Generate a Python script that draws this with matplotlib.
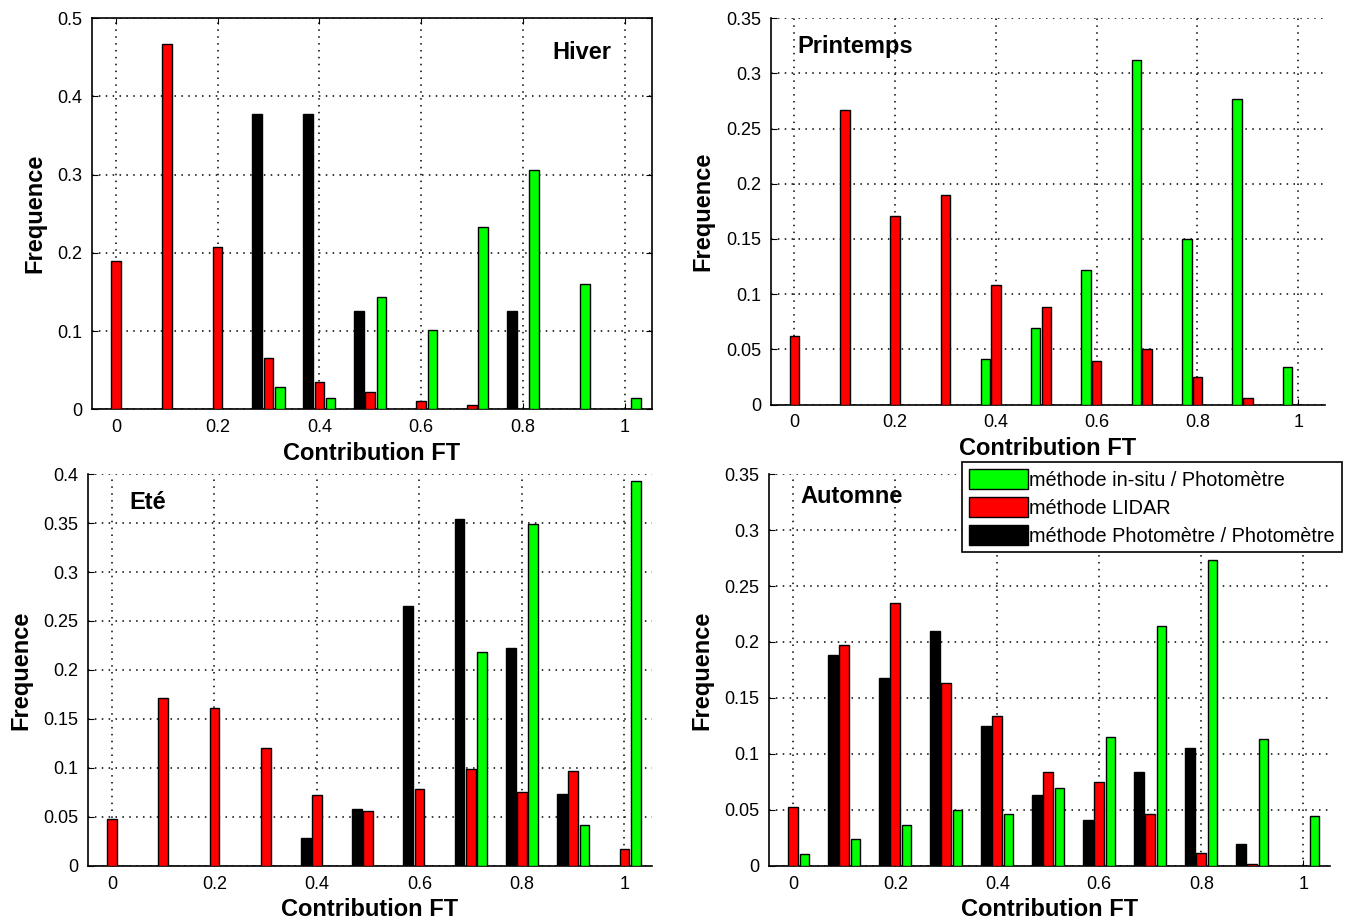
import numpy as np
import matplotlib
matplotlib.use("Agg")
import matplotlib.pyplot as plt
from matplotlib.ticker import FuncFormatter

plt.rcParams['font.family'] = ['Liberation Sans', 'DejaVu Sans']

# contribution FT classes
classes = [0, 0.1, 0.2, 0.3, 0.4, 0.5, 0.6, 0.7, 0.8, 0.9, 1.0]

# Hiver
hiver_insitu = [0, 0, 0, 0.029, 0.015, 0.144, 0.102, 0.233, 0.306, 0.160, 0.015]
hiver_lidar = [0.189, 0.467, 0.208, 0.066, 0.035, 0.022, 0.011, 0.005, 0, 0, 0]
hiver_photo = [0, 0, 0, 0.377, 0.377, 0.126, 0, 0, 0.126, 0, 0]

# Printemps (no photometre/photometre series)
print_insitu = [0, 0, 0, 0, 0.041, 0.069, 0.122, 0.312, 0.150, 0.277, 0.034]
print_lidar = [0.0625, 0.2666, 0.1707, 0.190, 0.108, 0.088, 0.040, 0.050, 0.025, 0.006, 0]

# Ete
ete_insitu = [0, 0, 0, 0, 0, 0, 0, 0.218, 0.349, 0.042, 0.393]
ete_lidar = [0.048, 0.171, 0.161, 0.120, 0.0725, 0.056, 0.079, 0.0986, 0.076, 0.097, 0.017]
ete_photo = [0, 0, 0, 0, 0.029, 0.058, 0.2656, 0.354, 0.222, 0.073, 0]

# Automne
aut_insitu = [0.011, 0.024, 0.037, 0.050, 0.046, 0.070, 0.115, 0.2145, 0.273, 0.1136, 0.045]
aut_lidar = [0.053, 0.197, 0.2346, 0.163, 0.134, 0.0837, 0.0754, 0.046, 0.012, 0.0015, 0]
aut_photo = [0, 0.188, 0.1675, 0.210, 0.125, 0.063, 0.041, 0.084, 0.105, 0.020, 0]

labels = ['méthode in-situ / Photomètre', 'méthode LIDAR',
          'méthode Photomètre / Photomètre']

fig = plt.figure(figsize=(13.52, 9.24), dpi=100)

x = np.array(classes)
w = 0.019


def panel(rect, name, txt_pos, ymax, ystep, insitu, lidar, photo=None,
          insitu_off=0.022, box=False):
    ax = fig.add_axes(rect)
    ax.set_axisbelow(True)
    g = ax.bar(x + insitu_off, insitu, w, color='#00ff00', edgecolor='black',
               linewidth=1, label=labels[0], zorder=3)
    r = ax.bar(x, lidar, w, color='#ff0000', edgecolor='black',
               linewidth=1, label=labels[1], zorder=3)
    handles = [g, r]
    if photo is not None:
        b = ax.bar(x - 0.022, photo, w, color='black', edgecolor='black',
                   linewidth=1, label=labels[2], zorder=3)
        handles.append(b)
    ax.set_xlim(-0.047, 1.053)
    ax.set_ylim(0, ymax)
    ax.set_xticks([0, 0.2, 0.4, 0.6, 0.8, 1])
    ax.set_yticks(np.arange(0, ymax + 1e-9, ystep))
    fmt = FuncFormatter(lambda v, p: ('%g' % round(v, 3)))
    ax.xaxis.set_major_formatter(fmt)
    ax.yaxis.set_major_formatter(fmt)
    ax.grid(True, color='black', linestyle=(0, (1, 3.5)), linewidth=1.1)
    ax.tick_params(direction='in', length=4, labelsize=13, pad=7,
                   top=box, right=box)
    if not box:
        ax.spines['top'].set_visible(False)
        ax.spines['right'].set_visible(False)
    for s in ax.spines.values():
        s.set_linewidth(1.2)
    ax.set_xlabel('Contribution FT', fontsize=17, fontweight='bold', labelpad=4)
    ax.set_ylabel('Frequence', fontsize=17, fontweight='bold', labelpad=8)
    ax.text(txt_pos[0], txt_pos[1], name, fontsize=17, fontweight='bold',
            va='center', ha='left')
    return ax, handles


panel([0.068, 0.557, 0.414, 0.4235], 'Hiver', (0.857, 0.456), 0.5, 0.1,
      hiver_insitu, hiver_lidar, hiver_photo, box=True)
panel([0.570, 0.562, 0.410, 0.4185], 'Printemps', (0.006, 0.324), 0.35, 0.05,
      print_insitu, print_lidar, insitu_off=-0.021)
panel([0.065, 0.0628, 0.417, 0.4242], 'Eté', (0.033, 0.371), 0.4, 0.05,
      ete_insitu, ete_lidar, ete_photo)
ax4, hs = panel([0.569, 0.0628, 0.415, 0.4242], 'Automne', (0.014, 0.330), 0.35, 0.05,
                aut_insitu, aut_lidar, aut_photo)

leg = fig.legend(hs, labels, loc='upper left', bbox_to_anchor=(0.7115, 0.5),
                 fontsize=14.3, frameon=True, fancybox=False, framealpha=1,
                 edgecolor='black', handlelength=3.0, handleheight=1.2,
                 handletextpad=0.05, labelspacing=0.35, borderpad=0.35,
                 borderaxespad=0)
leg.get_frame().set_linewidth(1.2)
leg.set_zorder(10)

fig.savefig('out.png', dpi=100)
